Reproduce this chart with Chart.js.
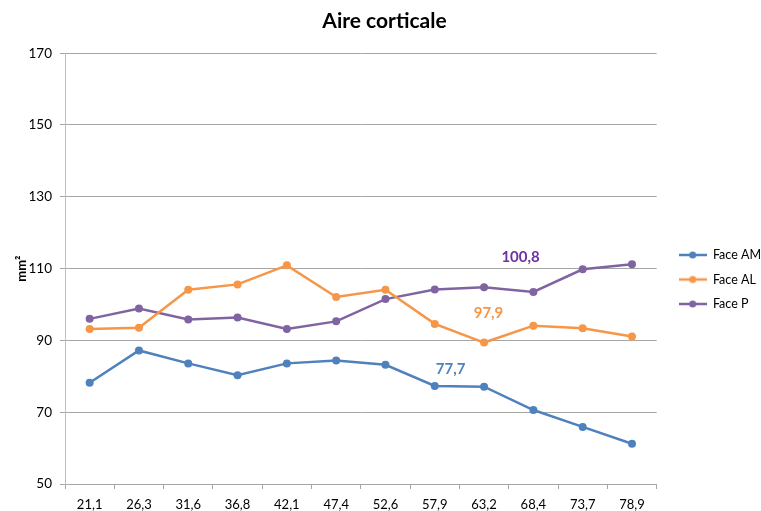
<!DOCTYPE html>
<html>
<head>
<meta charset="utf-8">
<script src="https://cdn.jsdelivr.net/npm/chart.js@4.4.1/dist/chart.umd.min.js"></script>
<style>
    html, body { margin: 0; padding: 0; background: #ffffff; }
    .container { width: 761px; height: 511px; }
</style>
</head>
<body>
<div class="container">
    <canvas id="graph0" width="761" height="511"></canvas>
</div>
<script>
// Cortical area per face, measured along the bone length (%)

let positions = ["21,1", "26,3", "31,6", "36,8", "42,1", "47,4", "52,6", "57,9", "63,2", "68,4", "73,7", "78,9"];
let faceAM = [78.2, 87.2, 83.6, 80.3, 83.6, 84.4, 83.2, 77.3, 77.1, 70.6, 65.9, 61.2];
let faceAL = [93.2, 93.5, 104.1, 105.6, 110.9, 102.1, 104.1, 94.6, 89.4, 94.1, 93.4, 91.1];
let faceP = [96.0, 98.9, 95.8, 96.4, 93.2, 95.3, 101.5, 104.2, 104.8, 103.5, 109.8, 111.2];
let seriesNames = ["Face AM", "Face AL", "Face P"];
let meanLabels = ["77,7", "97,9", "100,8"];
let yTicks = [50, 70, 90, 110, 130, 150, 170];

let colors = ["#4f81bd", "#f79646", "#8064a2"];
let labelColors = ["#4f81bd", "#f79646", "#7030a0"];
let fontName = "Lato, 'Open Sans', sans-serif";

// Small line + dot icon used for the legend entries
function legendIcon(color) {
    let c = document.createElement("canvas");
    c.width = 28;
    c.height = 10;
    let g = c.getContext("2d");
    g.strokeStyle = color;
    g.lineWidth = 2.5;
    g.beginPath();
    g.moveTo(0, 5);
    g.lineTo(28, 5);
    g.stroke();
    g.fillStyle = color;
    g.beginPath();
    g.arc(14, 5, 3.5, 0, Math.PI * 2);
    g.fill();
    return c;
}

// Writes the mean value of each series inside the plot
const meanText = {
    id: "meanText",
    afterDatasetsDraw(chart, args, opts) {
        let ctx = chart.ctx;
        let xs = chart.scales.x;
        let ys = chart.scales.y;
        ctx.save();
        ctx.font = "bold 15px " + fontName;
        ctx.textAlign = "center";
        ctx.textBaseline = "middle";
        for (let i = 0; i < meanLabels.length; i++) {
            let a = opts.anchors[i];
            let x = xs.getPixelForValue(a[0]);
            let y = ys.getPixelForValue(a[1]);
            ctx.fillStyle = labelColors[i];
            ctx.fillText(meanLabels[i], x, y);
        }
        ctx.restore();
    }
};

// Nudges the legend block down and to the right after layout
const legendShift = {
    id: "legendShift",
    afterLayout(chart, args, opts) {
        let lg = chart.legend;
        if (!lg) return;
        lg.left += opts.dx;
        lg.right += opts.dx;
        lg.top += opts.dy;
        lg.bottom += opts.dy;
    }
};

let ctx = document.getElementById("graph0");
let allSeries = [faceAM, faceAL, faceP];

let chart = new Chart(ctx, {
    type: "line",
    data: {
        labels: positions,
        datasets: allSeries.map(function (values, i) {
            return {
                label: seriesNames[i],
                data: values,
                borderColor: colors[i],
                backgroundColor: colors[i],
                borderWidth: 2.5,
                pointRadius: 4,
                pointStyle: "circle",
                pointBackgroundColor: colors[i],
                pointBorderWidth: 0,
                tension: 0
            };
        })
    },
    options: {
        responsive: false,
        animation: false,
        layout: { padding: { left: 8, right: 0, top: 6, bottom: 0 } },
        plugins: {
            title: {
                display: true,
                text: "Aire corticale",
                color: "#000000",
                font: { family: fontName, size: 21, weight: "bold" },
                padding: { top: 3, bottom: 19 }
            },
            legend: {
                position: "right",
                labels: {
                    color: "#000000",
                    font: { family: fontName, size: 12.5 },
                    usePointStyle: true,
                    pointStyleWidth: 28,
                    padding: 12,
                    generateLabels: function (chart) {
                        return chart.data.datasets.map(function (ds, i) {
                            return {
                                text: ds.label,
                                pointStyle: legendIcon(colors[i]),
                                fillStyle: colors[i],
                                strokeStyle: colors[i],
                                lineWidth: 0,
                                datasetIndex: i,
                                fontColor: "#000000"
                            };
                        });
                    }
                }
            },
            tooltip: { enabled: false },
            meanText: {
                anchors: [[7.32, 82.1], [8.09, 97.7], [8.74, 113.3]]
            },
            legendShift: { dx: 10, dy: 21 }
        },
        scales: {
            x: {
                offset: true,
                afterFit: function (scale) {
                    scale.height = 27;
                },
                grid: {
                    offset: true,
                    drawOnChartArea: false,
                    drawTicks: true,
                    tickLength: 5,
                    color: "#a6a6a6"
                },
                border: { color: "#a6a6a6", width: 1 },
                ticks: {
                    color: "#000000",
                    font: { family: fontName, size: 13 },
                    padding: 8,
                    maxRotation: 0,
                    autoSkip: false
                }
            },
            y: {
                min: 50,
                max: 170,
                afterBuildTicks: function (scale) {
                    scale.ticks = yTicks.map(function (v) { return { value: v }; });
                },
                afterFit: function (scale) {
                    scale.width = 57;
                },
                grid: {
                    color: "#a6a6a6",
                    lineWidth: 1,
                    tickLength: 5
                },
                border: { color: "#bfbfbf", width: 1 },
                ticks: {
                    color: "#000000",
                    font: { family: fontName, size: 13.5 },
                    padding: 8
                },
                title: {
                    display: true,
                    text: "mm²",
                    color: "#000000",
                    font: { family: fontName, size: 13, weight: "bold" },
                    padding: { top: 6, bottom: 0 }
                }
            }
        }
    },
    plugins: [meanText, legendShift]
});
</script>
</body>
</html>
